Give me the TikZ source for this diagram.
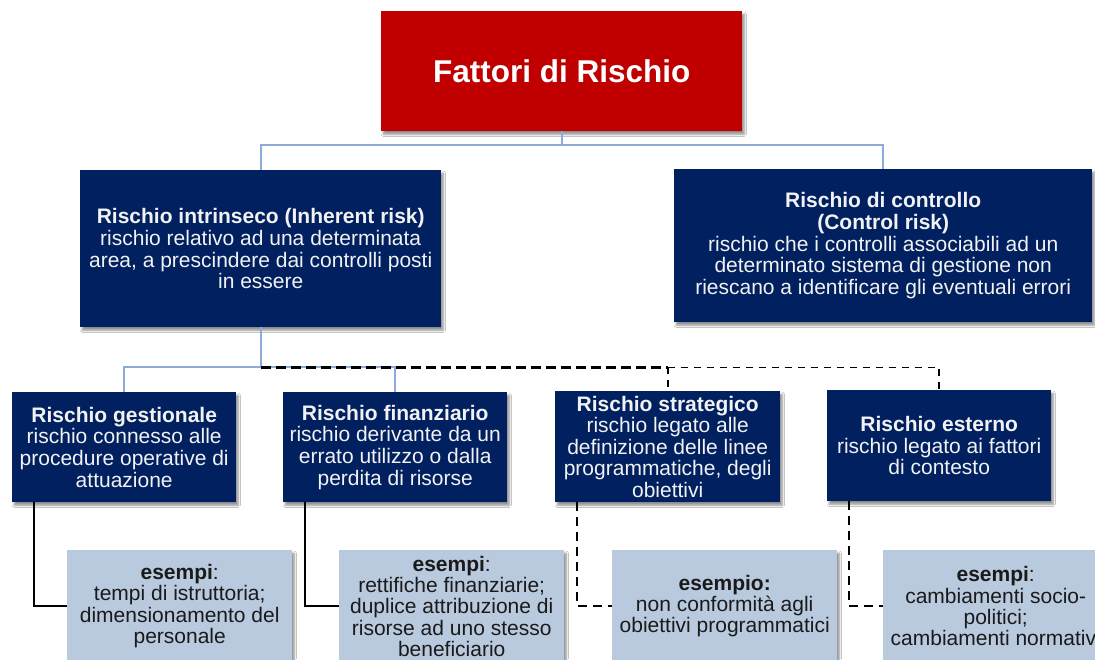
\documentclass[tikz,border=0pt]{standalone}
\usepackage{fontspec}
\setmainfont{Liberation Sans}
\usetikzlibrary{shadows.blur}
\definecolor{redbox}{HTML}{C00000}
\definecolor{navy}{HTML}{002060}
\definecolor{linkblue}{HTML}{8EA9DB}
\definecolor{lightbox}{HTML}{B9CADF}
\definecolor{darktext}{HTML}{1A1A1A}
\definecolor{lighttext}{HTML}{F2F2F2}
\begin{document}
\begin{tikzpicture}[x=1pt,y=-1pt,
  boxshadow/.style={blur shadow={shadow xshift=2pt, shadow yshift=-3pt, shadow blur steps=6, shadow opacity=45}},
  titlebox/.style={fill=redbox, text=white, align=center, inner sep=0pt, anchor=north west,
    minimum width=361pt, minimum height=120pt, font=\fontsize{31.5}{36}\selectfont\bfseries, boxshadow},
  darkbox/.style={fill=navy, text=lighttext, align=center, inner sep=0pt, anchor=north west,
    font=\fontsize{21}{21.6}\selectfont, boxshadow},
  exbox/.style={fill=lightbox, text=darktext, align=center, inner sep=0pt, anchor=north west,
    minimum width=225pt, minimum height=112pt, font=\fontsize{21}{21.3}\selectfont, boxshadow},
  bluelink/.style={draw=linkblue, line width=2pt},
  solidlink/.style={draw=black, line width=2pt},
  thickdash/.style={draw=black, line width=2.8pt, dash pattern=on 10pt off 5pt},
  thindash/.style={draw=black, line width=1.8pt, dash pattern=on 7pt off 6pt},
  vdash/.style={draw=black, line width=1.8pt, dash pattern=on 9pt off 6pt}
]
\useasboundingbox (0,0) rectangle (1095,659);
\clip (0,0) rectangle (1095,659);
\fill[white] (0,0) rectangle (1095,659);

% nodes
\node[titlebox] (title) at (381,11) {Fattori di Rischio};

\node[darkbox, minimum width=361pt, minimum height=157pt] (intr) at (80,170)
  {\textbf{Rischio intrinseco (Inherent risk)}\\rischio relativo ad una determinata\\area, a prescindere dai controlli posti\\in essere};
\node[darkbox, minimum width=418pt, minimum height=153pt] (ctrl) at (674,169)
  {\textbf{Rischio di controllo}\\\textbf{(Control risk)}\\rischio che i controlli associabili ad un\\determinato sistema di gestione non\\riescano a identificare gli eventuali errori};

\node[darkbox, minimum width=224pt, minimum height=110pt] (ges) at (12,392)
  {\textbf{Rischio gestionale}\\rischio connesso alle\\procedure operative di\\attuazione};
\node[darkbox, minimum width=224pt, minimum height=110pt] (fin) at (283,392)
  {\textbf{Rischio finanziario}\\rischio derivante da un\\errato utilizzo o dalla\\perdita di risorse};
\node[darkbox, minimum width=225pt, minimum height=111pt] (str) at (555,391)
  {\textbf{Rischio strategico}\\rischio legato alle\\definizione delle linee\\programmatiche, degli\\obiettivi};
\node[darkbox, minimum width=224pt, minimum height=111pt] (est) at (827,390)
  {\textbf{Rischio esterno}\\rischio legato ai fattori\\di contesto};

\node[exbox] (gex) at (67,550)
  {\textbf{esempi}:\\tempi di istruttoria;\\dimensionamento del\\personale};
\node[exbox] (fex) at (339,550)
  {\textbf{esempi}:\\rettifiche finanziarie;\\duplice attribuzione di\\risorse ad uno stesso\\beneficiario};
\node[exbox] (sex) at (612,550)
  {\textbf{esempio:}\\non conformità agli\\obiettivi programmatici};
\node[exbox] (eex) at (883,550)
  {\textbf{esempi}:\\cambiamenti socio-\\politici;\\cambiamenti normativi};

% top level connectors
\coordinate (tophub) at ([yshift=-14pt]title.south);
\draw[bluelink] (title.south) -- (tophub);
\draw[bluelink] (tophub) -| (intr.north);
\draw[bluelink] (tophub) -| (ctrl.north);

% second level connectors
\coordinate (hub) at ([yshift=-40pt]intr.south);
\draw[bluelink] (intr.south) -- (hub);
\draw[bluelink] (hub) -| (ges.north);
\draw[bluelink] (hub) -| (fin.north);
\coordinate (strtop) at (hub -| str.north);
\draw[thickdash] (hub) -- (strtop);
\draw[thindash] (strtop) -| (est.north);
\draw[thindash] (strtop) -- (str.north);

% example connectors
\draw[solidlink] ([xshift=22pt]ges.south west) |- (gex.west);
\draw[solidlink] ([xshift=22pt]fin.south west) |- (fex.west);
\draw[vdash] ([xshift=22pt]str.south west) |- (sex.west);
\draw[vdash] ([xshift=22pt]est.south west) |- (eex.west);
\end{tikzpicture}
\end{document}
